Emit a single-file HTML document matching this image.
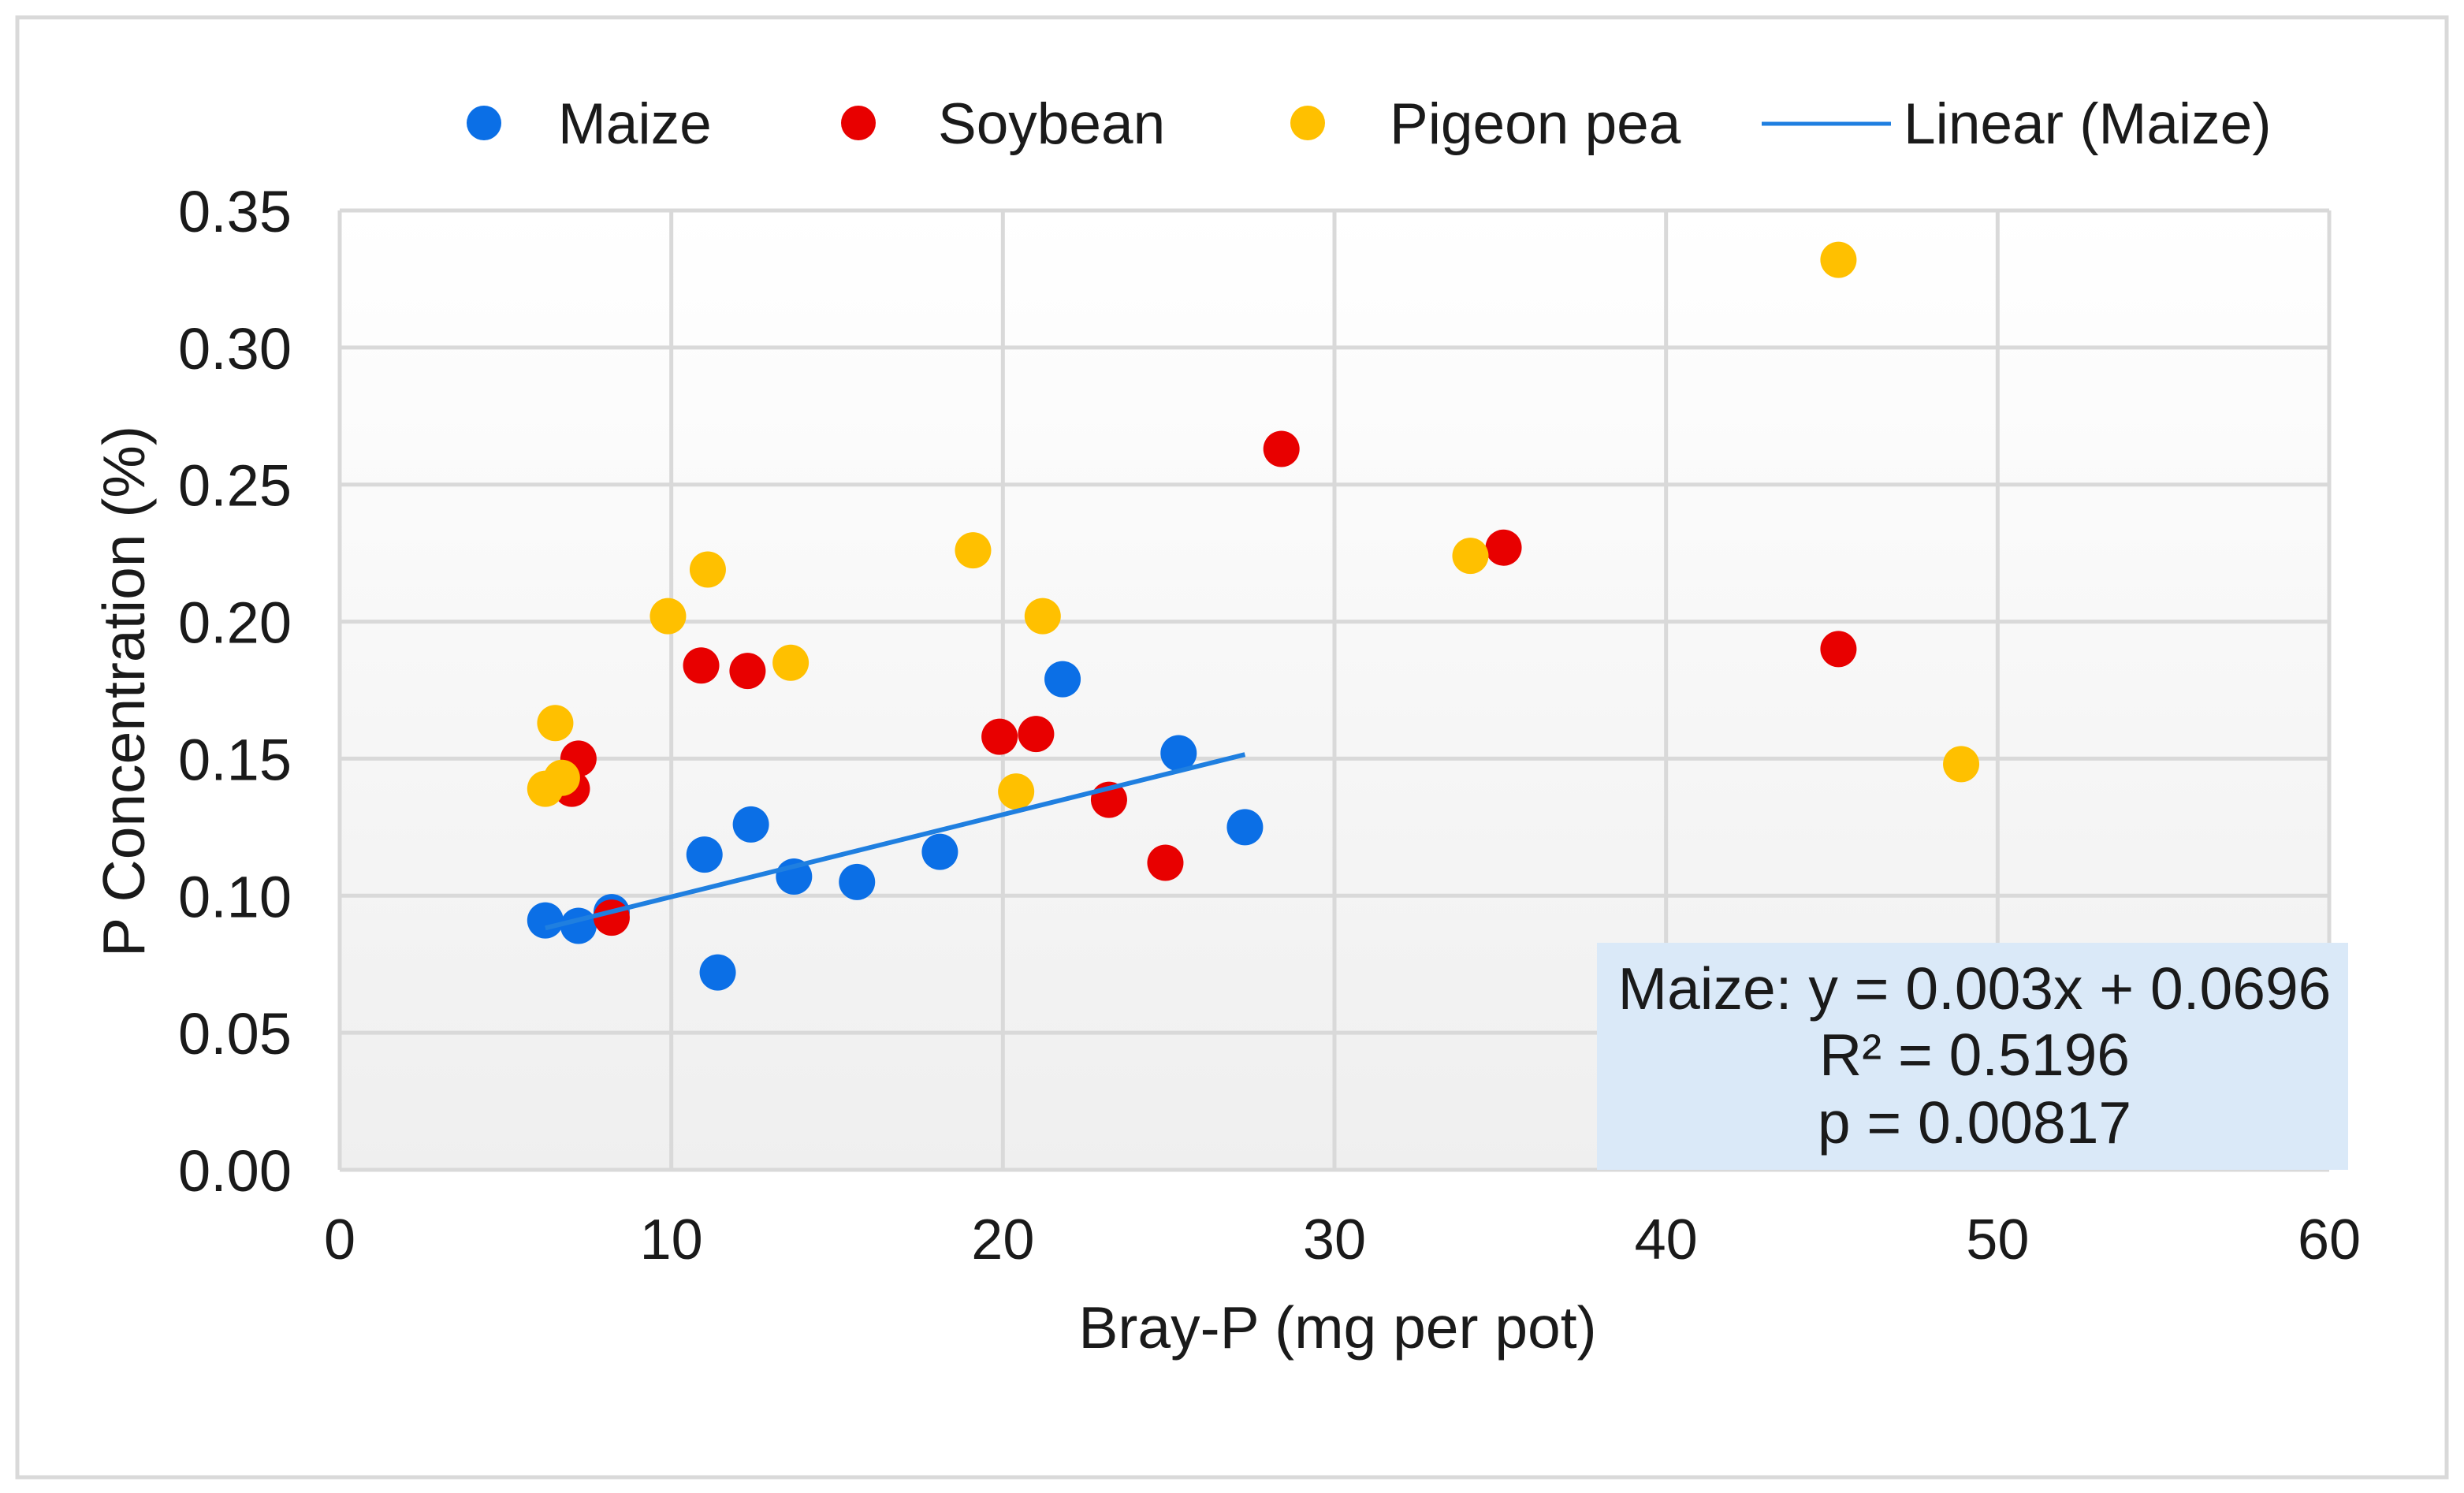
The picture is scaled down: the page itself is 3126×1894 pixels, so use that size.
<!DOCTYPE html>
<html><head><meta charset="utf-8">
<style>
html,body{margin:0;padding:0;background:#fff;}
svg{display:block;font-family:"Liberation Sans",Arial,sans-serif;}
</style></head>
<body>
<svg id="chart" width="3126" height="1894" viewBox="0 0 3126 1894">
<defs>
<linearGradient id="bg" x1="0" y1="0" x2="0" y2="1">
<stop offset="0" stop-color="#ffffff"/><stop offset="1" stop-color="#efefef"/>
</linearGradient>
</defs>
<rect x="22" y="22" width="3082" height="1852" fill="#fff" stroke="#d9d9d9" stroke-width="5"/>
<rect x="431" y="267" width="2524" height="1217" fill="url(#bg)"/>
<g id="grid"></g>
<g id="xticks"></g>
<g id="yticks"></g>
<g id="points"></g>
<g id="trend"></g>
<rect x="2026" y="1196" width="953" height="288" fill="#dae9f8"/>
<text x="2505" y="1280" font-size="75" text-anchor="middle" fill="#1a1a1a">Maize: y = 0.003x + 0.0696</text>
<text x="2505" y="1364" font-size="75" text-anchor="middle" fill="#1a1a1a">R² = 0.5196</text>
<text x="2505" y="1450" font-size="75" text-anchor="middle" fill="#1a1a1a">p = 0.00817</text>
<text transform="translate(183,877) rotate(-90)" font-size="75" text-anchor="middle" fill="#1a1a1a">P Concentration (%)</text>
<text x="1697" y="1710" font-size="75" text-anchor="middle" fill="#1a1a1a">Bray-P (mg per pot)</text>
<g>
<circle cx="614" cy="156" r="22" fill="#0b6fe6"/>
<text x="708" y="182" font-size="73" fill="#1a1a1a">Maize</text>
<circle cx="1089" cy="156" r="22" fill="#e80000"/>
<text x="1190" y="182" font-size="73" fill="#1a1a1a">Soybean</text>
<circle cx="1659" cy="156" r="22" fill="#ffc000"/>
<text x="1763" y="182" font-size="73" fill="#1a1a1a">Pigeon pea</text>
<line x1="2235" y1="157" x2="2399" y2="157" stroke="#1f7fe0" stroke-width="5"/>
<text x="2415" y="182" font-size="73" fill="#1a1a1a">Linear (Maize)</text>
</g>
</svg>
<script>
const xTicks=[0,10,20,30,40,50,60];
const yTicks=[0,0.05,0.10,0.15,0.20,0.25,0.30,0.35];
const maizeX=[6.2,7.2,8.2,11.0,11.4,12.4,13.7,15.6,18.1,21.8,25.3,27.3];
const maizeY=[0.091,0.089,0.094,0.115,0.072,0.126,0.107,0.105,0.116,0.179,0.152,0.125];
const soyX=[7.2,7.0,8.2,10.9,12.3,19.9,21.0,23.2,24.9,28.4,35.1,45.2];
const soyY=[0.150,0.139,0.092,0.184,0.182,0.158,0.159,0.135,0.112,0.263,0.227,0.190];
const pigeonX=[6.2,6.5,6.7,9.9,11.1,13.6,19.1,21.2,20.4,34.1,45.2,48.9];
const pigeonY=[0.139,0.163,0.143,0.202,0.219,0.185,0.226,0.202,0.138,0.224,0.332,0.148];
const trendSlope=0.003, trendIntercept=0.0696, trendX=[6.2,27.3];

const NS="http://www.w3.org/2000/svg";
const L=431,R=2955,T=267,B=1484;
const sx=v=>L+(v-0)/(60-0)*(R-L);
const sy=v=>B-(v-0)/(0.35-0)*(B-T);
function mk(tag,attrs,parent){const e=document.createElementNS(NS,tag);for(const k in attrs)e.setAttribute(k,attrs[k]);parent.appendChild(e);return e;}
const grid=document.getElementById('grid');
xTicks.forEach(t=>{
  const ln=mk('line',{x1:sx(t),x2:sx(t),y1:T,y2:B,stroke:'#d9d9d9','stroke-width':5},grid);
  
  
  const tx=mk('text',{x:sx(t),y:1597,'font-size':72,'text-anchor':'middle',fill:'#1a1a1a'},document.getElementById('xticks'));
  tx.textContent=t;
  
  
});
yTicks.forEach(t=>{
  const ln=mk('line',{x1:L,x2:R,y1:sy(t),y2:sy(t),stroke:'#d9d9d9','stroke-width':5},grid);
  
  
  const tx=mk('text',{x:370,y:sy(t)+27,'font-size':74,'text-anchor':'end',fill:'#1a1a1a'},document.getElementById('yticks'));
  tx.textContent=t.toFixed(2);
  
  
});
const pts=document.getElementById('points');
function series(xs,ys,color,name){
  xs.forEach((x,i)=>{
    const c=mk('circle',{cx:sx(x),cy:sy(ys[i]),r:23,fill:color},pts);
    
    
  });
}
series(maizeX,maizeY,'#0b6fe6','point-maize');
series(soyX,soyY,'#e80000','point-soybean');
series(pigeonX,pigeonY,'#ffc000','point-pigeon-pea');
const tl=mk('line',{x1:sx(trendX[0]),y1:sy(trendSlope*trendX[0]+trendIntercept),x2:sx(trendX[1]),y2:sy(trendSlope*trendX[1]+trendIntercept),stroke:'#1f7fe0','stroke-width':6},document.getElementById('trend'));


</script>
</body></html>
